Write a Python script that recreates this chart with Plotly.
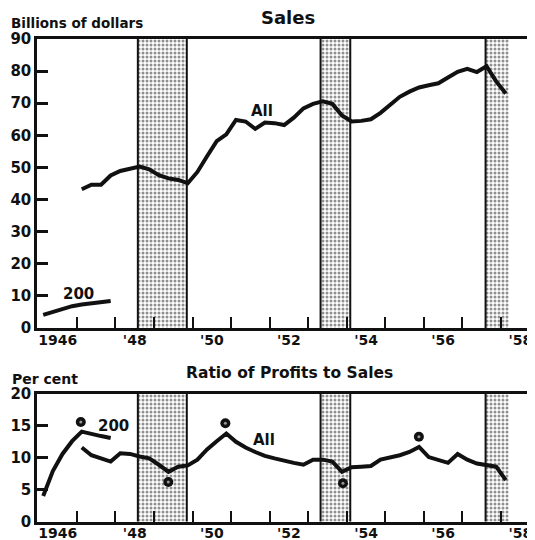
import plotly.graph_objects as go

# ---------------- data ----------------
# quarterly series, first quarter given by *_start (year, quarter)
sales_all_start = (1947, 1)
sales_all = [43.2, 44.6, 44.6, 47.5,
             48.9, 49.7, 50.3, 49.4,
             47.6, 46.6, 46.1, 45.1,
             48.6, 53.5, 58.2, 60.3,
             64.8, 64.3, 62.0, 64.0,
             63.8, 63.2, 65.5, 68.4,
             69.8, 70.6, 69.8, 66.2,
             64.3, 64.5, 65.0, 67.0,
             69.5, 72.0, 73.6, 74.9,
             75.6, 76.2, 78.0, 79.8,
             80.7, 79.7, 81.5, 76.8,
             73.0]
sales_200_start = (1946, 1)
sales_200 = [4.1, 5.1, 6.1, 6.8, 7.3, 7.7, 8.0, 8.4]

ratio_all_start = (1947, 1)
ratio_all = [11.6, 10.4, 9.9, 9.4,
             10.7, 10.6, 10.2, 9.9,
             8.9, 7.8, 8.6, 8.8,
             9.7, 11.3, 12.6, 13.8,
             12.5, 11.6, 10.9, 10.3,
             9.9, 9.5, 9.2, 8.9,
             9.7, 9.7, 9.4, 7.8,
             8.5, 8.6, 8.7, 9.7,
             10.0, 10.4, 10.9, 11.7,
             10.1, 9.6, 9.2, 10.6,
             9.7, 9.1, 8.8, 8.6,
             6.5]
ratio_200_start = (1946, 1)
ratio_200 = [4.0, 7.9, 10.6, 12.6, 14.1, 13.7, 13.4, 13.1]

# isolated "200 companies" ratio points (year, per cent)
dots_year = [1947.10, 1949.37, 1950.85, 1953.90, 1955.87]
dots_value = [15.6, 6.2, 15.4, 6.0, 13.3]

# recession periods (shaded), in years
rec_start = [1948.58, 1953.32, 1957.60]
rec_end = [1949.85, 1954.09, 1958.22]
rec_closed = [True, True, False]   # right border drawn?

year_tick_text = ["1946", "'48", "'50", "'52", "'54", "'56", "'58"]
year_tick_pos = [1946.5, 1948.5, 1950.5, 1952.5, 1954.5, 1956.5, 1958.5]
year_bounds = list(range(1947, 1959))
sales_ticks = [0, 10, 20, 30, 40, 50, 60, 70, 80, 90]
sales_right_ticks = [10, 20, 30, 40, 50, 60, 70, 80]
ratio_ticks = [0, 5, 10, 15, 20]
ratio_right_ticks = [5, 10, 15]


def quarters(start, n):
    y, q = start
    out = []
    for i in range(n):
        k = (q - 1) + i
        out.append(y + k // 4 + (k % 4) * 0.25 + 0.125)
    return out


# ---------------- figure ----------------
W, H = 535, 540
OFF = 8            # page body margin offset
ML = 37 - OFF
MR = OFF
FONT = "DejaVu Sans"
BLACK = "#111111"


def py(ref):       # reference pixel row -> paper fraction
    return 1 - (ref - OFF) / H


def px(ref):       # reference pixel column -> paper fraction
    return (ref - OFF - ML) / (W - ML - MR)


fig = go.Figure()

XR = [1945.964, 1958.882]
top_dom = [py(328), py(39)]
bot_dom = [py(521.5), py(394)]

# recession bands (bars with dot pattern)
for xa, ya, top in (("x", "y", 90), ("x2", "y2", 20)):
    fig.add_trace(go.Bar(
        x=[(s + e) / 2 for s, e in zip(rec_start, rec_end)],
        y=[top] * len(rec_start),
        width=[e - s for s, e in zip(rec_start, rec_end)],
        base=0,
        marker=dict(color="white", line=dict(width=0),
                    pattern=dict(shape=".", fgcolor="#222222", bgcolor="white",
                                 size=4, solidity=0.45)),
        xaxis=xa, yaxis=ya, showlegend=False, hoverinfo="skip"))

line_style = dict(color=BLACK, width=4)
sales_x = quarters(sales_all_start, len(sales_all))
ratio_x = quarters(ratio_all_start, len(ratio_all))

fig.add_trace(go.Scatter(x=sales_x, y=sales_all,
                         mode="lines", line=line_style, xaxis="x", yaxis="y", showlegend=False))
fig.add_trace(go.Scatter(x=quarters(sales_200_start, len(sales_200)), y=sales_200,
                         mode="lines", line=line_style, xaxis="x", yaxis="y", showlegend=False))
fig.add_trace(go.Scatter(x=ratio_x, y=ratio_all,
                         mode="lines", line=line_style, xaxis="x2", yaxis="y2", showlegend=False))
fig.add_trace(go.Scatter(x=quarters(ratio_200_start, len(ratio_200)), y=ratio_200,
                         mode="lines", line=line_style, xaxis="x2", yaxis="y2", showlegend=False))
fig.add_trace(go.Scatter(x=dots_year, y=dots_value, mode="markers",
                         marker=dict(color=BLACK, size=10, line=dict(width=0)),
                         xaxis="x2", yaxis="y2", showlegend=False))
fig.add_trace(go.Scatter(x=dots_year, y=dots_value, mode="markers",
                         marker=dict(color="#999999", size=3, line=dict(width=0)),
                         xaxis="x2", yaxis="y2", showlegend=False))
# invisible copies so the right-side tick axes are drawn
fig.add_trace(go.Scatter(x=sales_x, y=sales_all, mode="lines", opacity=0,
                         line=dict(width=0), xaxis="x", yaxis="y3",
                         showlegend=False, hoverinfo="skip"))
fig.add_trace(go.Scatter(x=ratio_x, y=ratio_all, mode="lines", opacity=0,
                         line=dict(width=0), xaxis="x2", yaxis="y4",
                         showlegend=False, hoverinfo="skip"))

# recession borders
for s, e, closed in zip(rec_start, rec_end, rec_closed):
    for yr in ("y domain", "y2 domain"):
        xr = "x" if yr == "y domain" else "x2"
        xs = [s, e] if closed else [s]
        for xv in xs:
            fig.add_shape(type="line", xref=xr, yref=yr, x0=xv, x1=xv, y0=0, y1=1,
                          line=dict(color=BLACK, width=2), layer="above")

xtickfont = dict(family=FONT, size=14, color=BLACK, weight="bold")
ytickfont = dict(family=FONT, size=15, color=BLACK, weight="bold")

xcommon = dict(range=XR, showgrid=False, zeroline=False, showline=True,
               linecolor=BLACK, linewidth=3, mirror=True, automargin=False,
               tickmode="array", tickvals=year_tick_pos, ticktext=year_tick_text,
               ticks="", tickfont=xtickfont, ticklabelstandoff=-3,
               minor=dict(tickmode="array", tickvals=year_bounds, ticks="inside",
                          ticklen=11, tickwidth=2, tickcolor=BLACK, showgrid=False),
               fixedrange=True)
ycommon = dict(showgrid=False, zeroline=False, showline=True, linecolor=BLACK,
               linewidth=2.5, ticks="inside", ticklen=11, tickwidth=2.5,
               tickcolor=BLACK, tickfont=ytickfont, automargin=False)
rcommon = dict(side="right", ticks="inside", ticklen=7, tickwidth=2.5,
               tickcolor=BLACK, showticklabels=False, showline=False,
               showgrid=False, zeroline=False, automargin=False)

fig.update_layout(
    width=W, height=H,
    margin=dict(l=ML, r=MR, t=0, b=0, pad=0, autoexpand=False),
    paper_bgcolor="white", plot_bgcolor="white",
    barmode="overlay", bargap=0,
    xaxis=dict(domain=[0, 1], anchor="y", **xcommon),
    xaxis2=dict(domain=[0, 1], anchor="y2", **xcommon),
    yaxis=dict(domain=top_dom, anchor="x", range=[0, 90], tickvals=sales_ticks, **ycommon),
    yaxis2=dict(domain=bot_dom, anchor="x2", range=[0, 20], tickvals=ratio_ticks, **ycommon),
    yaxis3=dict(overlaying="y", anchor="x", range=[0, 90],
                tickvals=sales_right_ticks, **rcommon),
    yaxis4=dict(overlaying="y2", anchor="x2", range=[0, 20],
                tickvals=ratio_right_ticks, **rcommon),
    font=dict(family=FONT, color=BLACK),
)

ann_font = dict(family=FONT, size=15, color=BLACK, weight="bold")
common_ann = dict(xref="paper", yref="paper", showarrow=False, yanchor="middle")
fig.add_annotation(text="Sales", x=px(288), y=py(17), xanchor="center",
                   font=dict(family=FONT, size=18, color=BLACK, weight="bold"), **common_ann)
fig.add_annotation(text="Billions of dollars", x=px(9), y=py(23), xanchor="left",
                   font=dict(family=FONT, size=13.5, color=BLACK, weight="bold"), **common_ann)
fig.add_annotation(text="Ratio of Profits to Sales", x=px(289), y=py(373), xanchor="center",
                   font=dict(family=FONT, size=15.5, color=BLACK, weight="bold"), **common_ann)
fig.add_annotation(text="Per cent", x=px(10), y=py(379), xanchor="left",
                   font=dict(family=FONT, size=14, color=BLACK, weight="bold"), **common_ann)

fig.add_annotation(text="All", x=1951.81, y=67.6, xref="x", yref="y", showarrow=False, font=ann_font)
fig.add_annotation(text="200", x=1947.05, y=10.6, xref="x", yref="y", showarrow=False, font=ann_font)
fig.add_annotation(text="All", x=1951.85, y=12.8, xref="x2", yref="y2", showarrow=False, font=ann_font)
fig.add_annotation(text="200", x=1947.94, y=14.95, xref="x2", yref="y2", showarrow=False, font=ann_font)

fig.write_html("out.html")
